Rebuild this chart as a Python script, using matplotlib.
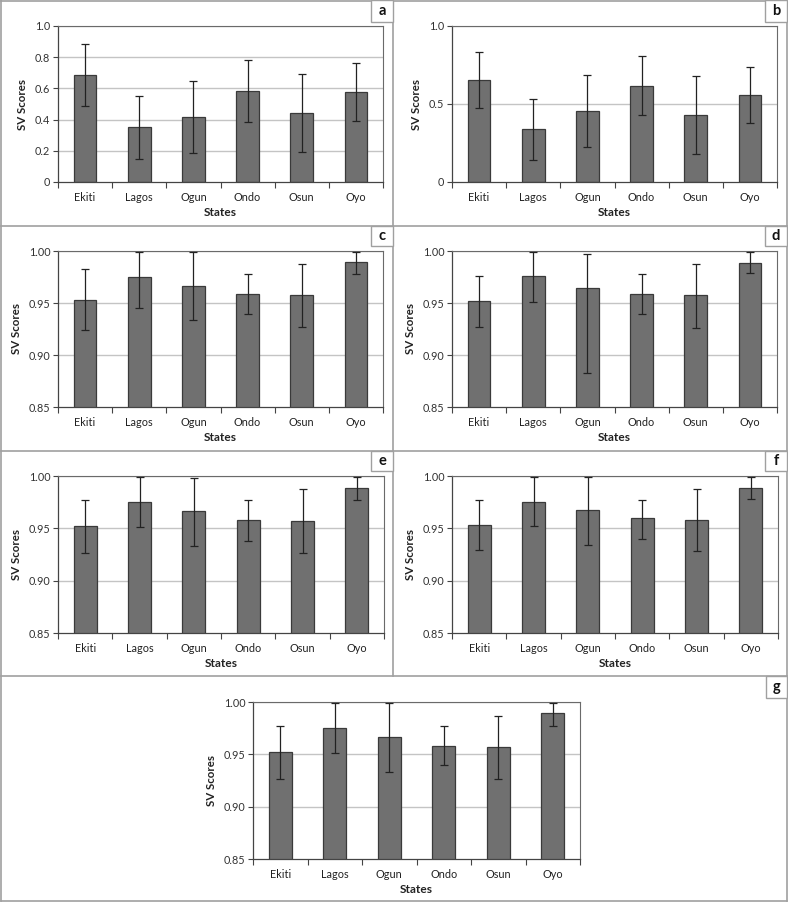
import matplotlib
matplotlib.use("Agg")
import matplotlib.pyplot as plt
from matplotlib.patches import Rectangle
from matplotlib.lines import Line2D
import numpy as np

plt.rcParams['font.family'] = ['Lato', 'DejaVu Sans']

states = ["Ekiti", "Lagos", "Ogun", "Ondo", "Osun", "Oyo"]

# panel a
a_means = [0.684, 0.350, 0.415, 0.583, 0.442, 0.575]
a_err = [0.198, 0.201, 0.232, 0.197, 0.252, 0.186]
# panel b
b_means = [0.652, 0.338, 0.457, 0.618, 0.427, 0.556]
b_err = [0.180, 0.195, 0.232, 0.190, 0.250, 0.180]
# panel c
c_means = [0.9525, 0.9753, 0.9663, 0.9583, 0.9573, 0.9890]
c_low = [0.9236, 0.9448, 0.9332, 0.9390, 0.9268, 0.9775]
c_high = [0.9830, 0.9990, 0.9990, 0.9775, 0.9875, 0.9994]
# panel d
d_means = [0.9515, 0.9756, 0.9647, 0.9586, 0.9576, 0.9888]
d_low = [0.9268, 0.9509, 0.8831, 0.9396, 0.9258, 0.9785]
d_high = [0.9762, 0.9990, 0.9975, 0.9775, 0.9878, 0.9990]
# panel e
e_means = [0.9525, 0.9750, 0.9661, 0.9582, 0.9570, 0.9889]
e_low = [0.9266, 0.9513, 0.9335, 0.9383, 0.9269, 0.9769]
e_high = [0.9766, 0.9990, 0.9978, 0.9769, 0.9873, 0.9990]
# panel f
f_means = [0.9535, 0.9756, 0.9671, 0.9595, 0.9582, 0.9889]
f_low = [0.9291, 0.9519, 0.9345, 0.9399, 0.9282, 0.9782]
f_high = [0.9769, 0.9990, 0.9990, 0.9772, 0.9873, 0.9990]
# panel g
g_means = [0.9525, 0.9752, 0.9666, 0.9583, 0.9573, 0.9895]
g_low = [0.9264, 0.9510, 0.9328, 0.9398, 0.9264, 0.9771]
g_high = [0.9767, 0.9990, 0.9990, 0.9771, 0.9863, 0.9990]

a_ticks = [0, 0.2, 0.4, 0.6, 0.8, 1.0]
a_ticklabels = ["0", "0.2", "0.4", "0.6", "0.8", "1.0"]
b_ticks = [0, 0.5, 1.0]
b_ticklabels = ["0", "0.5", "1.0"]
hi_ticks = [0.85, 0.90, 0.95, 1.00]
hi_ticklabels = ["0.85", "0.90", "0.95", "1.00"]

W, H = 788, 902
fig = plt.figure(figsize=(W / 100, H / 100), dpi=100)


def px_axes(left, top, right, bottom):
    return fig.add_axes([left / W, 1 - bottom / H, (right - left) / W, (bottom - top) / H])


BAR = "#707070"
EDGE = "#3a3a3a"
GRID = "#c4c4c4"
BORDER = "#a0a0a0"


def draw_panel(box, means, lo, hi, ylim, ticks, ticklabels, label, labelbox):
    ax = px_axes(*box)
    x = np.arange(len(states))
    ax.set_xlim(-0.5, len(states) - 0.5)
    ax.set_ylim(*ylim)
    ax.set_axisbelow(True)
    for t in ticks[1:]:
        ax.axhline(t, color=GRID, lw=1.0, zorder=0)
    ax.bar(x, means, width=0.42, color=BAR, edgecolor=EDGE, linewidth=0.9, zorder=2)
    ax.errorbar(x, means, yerr=[lo, hi], fmt='none', ecolor="#222222",
                elinewidth=0.9, capsize=3.2, capthick=0.9, zorder=3)
    ax.set_yticks(ticks)
    ax.set_yticklabels(ticklabels)
    ax.set_xticks(x)
    ax.set_xticklabels(states)
    ax.set_xticks(np.arange(-0.5, len(states)), minor=True)
    ax.tick_params(axis='x', which='major', length=0, pad=7, labelsize=7.8, colors="#222222")
    ax.tick_params(axis='x', which='minor', length=4, width=0.8, color="#444444", direction='out')
    ax.tick_params(axis='y', length=3.5, width=0.8, color="#444444", pad=2, labelsize=7.8,
                   labelcolor="#333333")
    for s in ["left", "bottom"]:
        ax.spines[s].set_color("#444444")
        ax.spines[s].set_linewidth(0.9)
    for s in ["top", "right"]:
        ax.spines[s].set_color("#6a6a6a")
        ax.spines[s].set_linewidth(0.8)
    ax.set_ylabel("SV Scores", fontsize=8.3, fontweight='bold', labelpad=5, color="#222222")
    ax.set_xlabel("States", fontsize=8.6, fontweight='bold', labelpad=3, color="#222222")
    # label box
    lx0, ly0, lx1, ly1 = labelbox
    fig.patches.append(Rectangle((lx0 / W, 1 - ly1 / H), (lx1 - lx0) / W, (ly1 - ly0) / H,
                                 transform=fig.transFigure, facecolor="white",
                                 edgecolor=BORDER, linewidth=1.0, zorder=5))
    fig.text((lx0 + lx1) / 2 / W, 1 - (ly0 + ly1) / 2 / H, label, ha='center', va='center',
             fontsize=10.5, fontweight='bold', color="#111111", zorder=6)
    return ax


def deltas(means, low, high):
    m = np.array(means)
    return m - np.array(low), np.array(high) - m


draw_panel((58, 26, 383, 182), a_means, a_err, a_err, (0, 1.0), a_ticks, a_ticklabels,
           "a", (371, 0, 393, 22))
draw_panel((452, 26, 777, 182), b_means, b_err, b_err, (0, 1.0), b_ticks, b_ticklabels,
           "b", (765, 0, 787, 22))
lo, hi = deltas(c_means, c_low, c_high)
draw_panel((58, 251, 383, 407), c_means, lo, hi, (0.85, 1.0), hi_ticks, hi_ticklabels,
           "c", (371, 226, 393, 246))
lo, hi = deltas(d_means, d_low, d_high)
draw_panel((452, 251, 777, 407), d_means, lo, hi, (0.85, 1.0), hi_ticks, hi_ticklabels,
           "d", (765, 226, 787, 246))
lo, hi = deltas(e_means, e_low, e_high)
draw_panel((58, 476, 384, 633), e_means, lo, hi, (0.85, 1.0), hi_ticks, hi_ticklabels,
           "e", (371, 451, 393, 471))
lo, hi = deltas(f_means, f_low, f_high)
draw_panel((452, 476, 778, 633), f_means, lo, hi, (0.85, 1.0), hi_ticks, hi_ticklabels,
           "f", (765, 451, 787, 471))
lo, hi = deltas(g_means, g_low, g_high)
draw_panel((253, 702, 580, 859), g_means, lo, hi, (0.85, 1.0), hi_ticks, hi_ticklabels,
           "g", (766, 676, 787, 698))

# panel borders
def hline(y, x0, x1):
    fig.lines.append(Line2D([x0 / W, x1 / W], [1 - y / H, 1 - y / H], transform=fig.transFigure,
                            color=BORDER, lw=1.2, zorder=4))


def vline(x, y0, y1):
    fig.lines.append(Line2D([x / W, x / W], [1 - y0 / H, 1 - y1 / H], transform=fig.transFigure,
                            color=BORDER, lw=1.2, zorder=4))


hline(0.6, 1, 787)
hline(226, 1, 787)
hline(451, 1, 787)
hline(676, 1, 787)
hline(901, 1, 787)
vline(1, 0, 901)
vline(787, 0, 901)
vline(393, 0, 676)

fig.savefig("out.png", dpi=100, facecolor="white")
